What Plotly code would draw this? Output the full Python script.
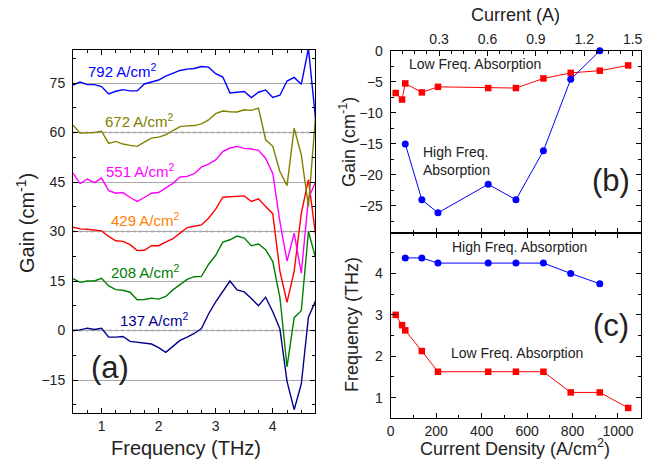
import plotly.graph_objects as go

W, H = 657, 464

# ---------------- Panel (a) data: gain spectra (raw gain, cm^-1) ----------------
freq_thz = [0.5, 0.625, 0.75, 0.875, 1.0, 1.125, 1.25, 1.375, 1.5, 1.625, 1.75, 1.875,
            2.0, 2.125, 2.25, 2.375, 2.5, 2.625, 2.75, 2.875, 3.0, 3.125, 3.25, 3.375,
            3.5, 3.625, 3.75, 3.875, 4.0, 4.125, 4.25, 4.375, 4.5, 4.625, 4.75]

gain_137 = [0, 0.2, 0.7, 0.3, 0.7, -2.0, -2.0, -1.8, -3.3, -3.6, -3.9, -4.1, -5.2, -6.6, -4.8,
            -3.0, -2.0, -0.9, 0.6, 5.0, 8.7, 12.0, 15.0, 12.3, 11.7, 9.7, 7.5, 10.1, 5.7, 0.5,
            -15.4, -24.0, -16.2, 4.0, 9.0]
gain_208 = [0.7, -0.4, 0, 0, 0.8, -1.5, -2.6, -2.8, -3.4, -5.7, -5.6, -5.2, -5.5, -4.7, -2.7,
            -1.0, 0.5, 1.3, 1.4, 5.0, 7.8, 11.8, 12.5, 13.6, 13.0, 10.7, 11.2, 9.5, 5.9, -5.0,
            -26.0, -11.1, -9.0, 15.0, 7.0]
gain_429 = [1.3, 0.8, 0.7, 0.5, 0.2, -1.5, -2.8, -3.0, -4.0, -5.8, -5.7, -4.3, -4.3, -3.2, -2.2,
            -0.5, 1.2, 1.6, 2.0, 4.0, 6.8, 10.4, 10.6, 10.7, 10.8, 9.1, 9.9, 7.6, 5.4, -12.0,
            -21.5, -12.0, 5.5, 15.7, -1.0]
gain_551 = [2.7, -0.5, 0.9, -0.2, 1.2, -2.6, -3.4, -3.2, -4.7, -5.9, -4.7, -3.4, -3.2, -1.9, -0.4,
            1.5, 1.7, 2.5, 4.5, 5.4, 6.7, 9.2, 10.3, 10.8, 10.2, 10.0, 9.6, 7.2, 2.6, -12.0,
            -24.0, -15.5, -27.6, -5.0, 0.0]
gain_672 = [2.2, -0.2, -0.1, 0.0, 0.4, -3.3, -2.7, -3.5, -3.9, -4.2, -2.9, -1.7, -1.4, -0.7, 0.6,
            1.8, 2.0, 2.1, 2.6, 3.8, 5.7, 6.5, 6.3, 6.2, 6.9, 6.7, 7.4, -2.2, -4.2, -11.8,
            -16.1, 1.3, -6.8, -22.4, 5.0]
gain_792 = [-0.6, 0.3, -0.5, -0.5, -1.1, -3.3, -2.5, -2.0, -2.4, -2.4, -0.3, 0.4, 0.9, 2.1, 3.0,
            3.8, 4.2, 4.4, 5.0, 4.8, 2.8, 1.8, -3.0, -2.8, -2.6, -4.4, -2.8, -2.1, -4.4, -3.7,
            0.6, 1.7, -0.4, 10.5, -11.0]

spectra_labels = ["137 A/cm<sup>2</sup>", "208 A/cm<sup>2</sup>", "429 A/cm<sup>2</sup>",
                  "551 A/cm<sup>2</sup>", "672 A/cm<sup>2</sup>", "792 A/cm<sup>2</sup>"]
spectra_offsets = [0, 15, 30, 45, 60, 75]
spectra_colors = ["#00008b", "#008000", "#ff0000", "#ff00ff", "#808000", "#0000ff"]
label_colors = ["#00008b", "#008000", "#ff8000", "#ff00ff", "#808000", "#0000ff"]
# label anchor positions (freq, gain) for the curve labels
label_freq = [1.29, 1.133, 1.133, 1.045, 1.017, 0.726]
label_gain = [3.2, 17.9, 33.5, 48.4, 63.5, 78.8]

# ---------------- Panels (b) and (c) data ----------------
jd_low = [22, 50, 64, 137, 208, 429, 551, 672, 792, 920, 1045]
gain_low = [-6.8, -7.85, -5.25, -6.7, -5.8, -6.0, -6.0, -4.45, -3.55, -3.2, -2.35]
freq_low = [3.0, 2.75, 2.625, 2.125, 1.625, 1.625, 1.625, 1.625, 1.125, 1.125, 0.75]

jd_high = [64, 137, 208, 429, 551, 672, 792, 920]
gain_high = [-15.0, -24.0, -26.1, -21.5, -24.0, -16.1, -4.6, 0.0]
freq_high = [4.375, 4.375, 4.25, 4.25, 4.25, 4.25, 4.0, 3.75]

current_ticks = [0.3, 0.6, 0.9, 1.2, 1.5]
DEVICE_AREA_CM2 = 0.001409   # converts current density to current (A)
JD_MAX = 1100

FONT = "Liberation Sans, Arial, Helvetica, sans-serif"
TXT = "#222222"


def px_x(px):
    return px / W


def px_y(py):
    return 1 - py / H


fig = go.Figure()

# Panel (a) curves
all_gains = [gain_137, gain_208, gain_429, gain_551, gain_672, gain_792]
for g, off, col in zip(all_gains, spectra_offsets, spectra_colors):
    fig.add_trace(go.Scatter(x=freq_thz, y=[v + off for v in g], mode="lines",
                             line=dict(color=col, width=1.4), xaxis="x", yaxis="y",
                             showlegend=False, hoverinfo="skip"))

# Panel (b)
fig.add_trace(go.Scatter(x=jd_low, y=gain_low, mode="lines+markers",
                         line=dict(color="#ff0000", width=1),
                         marker=dict(symbol="square", size=6.5, color="#ff0000"),
                         xaxis="x2", yaxis="y2", showlegend=False, cliponaxis=False))
fig.add_trace(go.Scatter(x=jd_high, y=gain_high, mode="lines+markers",
                         line=dict(color="#0000ff", width=1),
                         marker=dict(symbol="circle", size=7, color="#0000ff"),
                         xaxis="x2", yaxis="y2", showlegend=False, cliponaxis=False))
# invisible trace to instantiate the top current axis
fig.add_trace(go.Scatter(x=[j * DEVICE_AREA_CM2 for j in jd_low], y=gain_low, mode="markers",
                         marker=dict(opacity=0), xaxis="x3", yaxis="y2",
                         showlegend=False, hoverinfo="skip"))

# Panel (c)
fig.add_trace(go.Scatter(x=jd_low, y=freq_low, mode="lines+markers",
                         line=dict(color="#ff0000", width=1),
                         marker=dict(symbol="square", size=6.5, color="#ff0000"),
                         xaxis="x4", yaxis="y3", showlegend=False, cliponaxis=False))
fig.add_trace(go.Scatter(x=jd_high, y=freq_high, mode="lines+markers",
                         line=dict(color="#0000ff", width=1),
                         marker=dict(symbol="circle", size=7, color="#0000ff"),
                         xaxis="x4", yaxis="y3", showlegend=False, cliponaxis=False))

tickfont = dict(family=FONT, size=14, color=TXT)
common = dict(showline=True, linecolor="black", linewidth=1, ticks="inside",
              tickcolor="black", ticklen=5, tickfont=tickfont, zeroline=False,
              showgrid=False, automargin=False)

xa_dom = [px_x(73), px_x(315)]
xb_dom = [px_x(390.7), px_x(640.7)]

fig.update_layout(
    template="none",
    width=W, height=H, margin=dict(l=0, r=0, t=0, b=0, pad=0),
    paper_bgcolor="white", plot_bgcolor="white",
    font=dict(family=FONT, color=TXT),
    xaxis=dict(domain=xa_dom, anchor="y", range=[0.5, 4.74], tick0=0, dtick=1,
               mirror="ticks", minor=dict(dtick=0.25, tick0=0, ticks="inside", ticklen=3,
                                          tickcolor="black"), **common),
    yaxis=dict(domain=[px_y(413), px_y(50)], anchor="x", range=[-25, 85], tick0=0, dtick=15,
               mirror="ticks", ticklabelstandoff=4,
               minor=dict(dtick=7.5, tick0=0, ticks="inside", ticklen=3, tickcolor="black"),
               **{**common, "showgrid": True}, gridcolor="#a8a8a8", gridwidth=1),
    xaxis2=dict(domain=xb_dom, anchor="y2", range=[0, JD_MAX], dtick=200, showticklabels=False,
                minor=dict(dtick=100, ticks="inside", ticklen=3, tickcolor="black"), **common),
    xaxis3=dict(overlaying="x2", side="top", anchor="y2",
                range=[0, JD_MAX * DEVICE_AREA_CM2], tickvals=current_ticks,
                ticktext=[f"{v:.1f}" for v in current_ticks],
                minor=dict(dtick=0.075, tick0=0, ticks="inside", ticklen=3, tickcolor="black"),
                **common),
    yaxis2=dict(domain=[px_y(233.3), px_y(50.7)], anchor="x2", range=[-29.4, 0.02], dtick=5,
                mirror="ticks", ticklabelstandoff=4,
                minor=dict(dtick=2.5, ticks="inside", ticklen=3, tickcolor="black"), **common),
    xaxis4=dict(domain=xb_dom, anchor="y3", range=[0, JD_MAX], dtick=200, mirror="ticks",
                minor=dict(dtick=100, ticks="inside", ticklen=3, tickcolor="black"), **common),
    yaxis3=dict(domain=[px_y(418.3), px_y(233.3)], anchor="x4", range=[0.5, 4.97], dtick=1,
                mirror="ticks", ticklabelstandoff=4,
                minor=dict(dtick=0.5, ticks="inside", ticklen=3, tickcolor="black"), **common),
)

# dotted baselines for alternating spectra offsets (0, 30, 60)
for off in spectra_offsets[::2]:
    fig.add_shape(type="line", xref="x domain", yref="y", x0=0, x1=1, y0=off, y1=off,
                  line=dict(color="#8a8a8a", width=1.6, dash="dot"), layer="below")

annotations = []
for txt, fx, gy, col in zip(spectra_labels, label_freq, label_gain, label_colors):
    annotations.append(dict(text=txt, x=fx, y=gy, xref="x", yref="y", xanchor="left",
                            yanchor="middle", showarrow=False,
                            font=dict(family=FONT, size=15, color=col)))
annotations.append(dict(text="(a)", x=1.145, y=-11.3, xref="x", yref="y", showarrow=False,
                        xanchor="center", yanchor="middle",
                        font=dict(family=FONT, size=31, color=TXT)))
# Panel (b) texts
annotations.append(dict(text="Low Freq. Absorption", x=70, y=-2.15, xref="x2", yref="y2",
                        xanchor="left", yanchor="middle", showarrow=False,
                        font=dict(family=FONT, size=14, color=TXT)))
annotations.append(dict(text="High Freq.<br>Absorption", x=132, y=-17.8, xref="x2", yref="y2",
                        xanchor="left", yanchor="middle", align="left", showarrow=False,
                        font=dict(family=FONT, size=14, color=TXT)))
annotations.append(dict(text="(b)", x=970, y=-20.9, xref="x2", yref="y2", showarrow=False,
                        xanchor="center", yanchor="middle",
                        font=dict(family=FONT, size=31, color=TXT)))
# Panel (c) texts
annotations.append(dict(text="High Freq. Absorption", x=565, y=4.63, xref="x4", yref="y3",
                        xanchor="center", yanchor="middle", showarrow=False,
                        font=dict(family=FONT, size=14, color=TXT)))
annotations.append(dict(text="Low Freq. Absorption", x=556, y=2.07, xref="x4", yref="y3",
                        xanchor="center", yanchor="middle", showarrow=False,
                        font=dict(family=FONT, size=14, color=TXT)))
annotations.append(dict(text="(c)", x=968, y=2.75, xref="x4", yref="y3", showarrow=False,
                        xanchor="center", yanchor="middle",
                        font=dict(family=FONT, size=31, color=TXT)))
# Axis titles
titles = [
    ("Gain (cm<sup>-1</sup>)", 25, 223, -90, 20),
    ("Frequency (THz)", 186, 448, 0, 20),
    ("Gain (cm<sup>-1</sup>)", 347, 142, -90, 18),
    ("Current (A)", 515, 15, 0, 18),
    ("Frequency (THz)", 352, 325, -90, 18),
    ("Current Density (A/cm<sup>2</sup>)", 515, 447, 0, 18),
]
for txt, xp, yp, ang, sz in titles:
    annotations.append(dict(text=txt, x=px_x(xp), y=px_y(yp), xref="paper", yref="paper",
                            xanchor="center", yanchor="middle", textangle=ang,
                            showarrow=False, font=dict(family=FONT, size=sz, color=TXT)))
fig.update_layout(annotations=annotations)

fig.write_html("out.html")
